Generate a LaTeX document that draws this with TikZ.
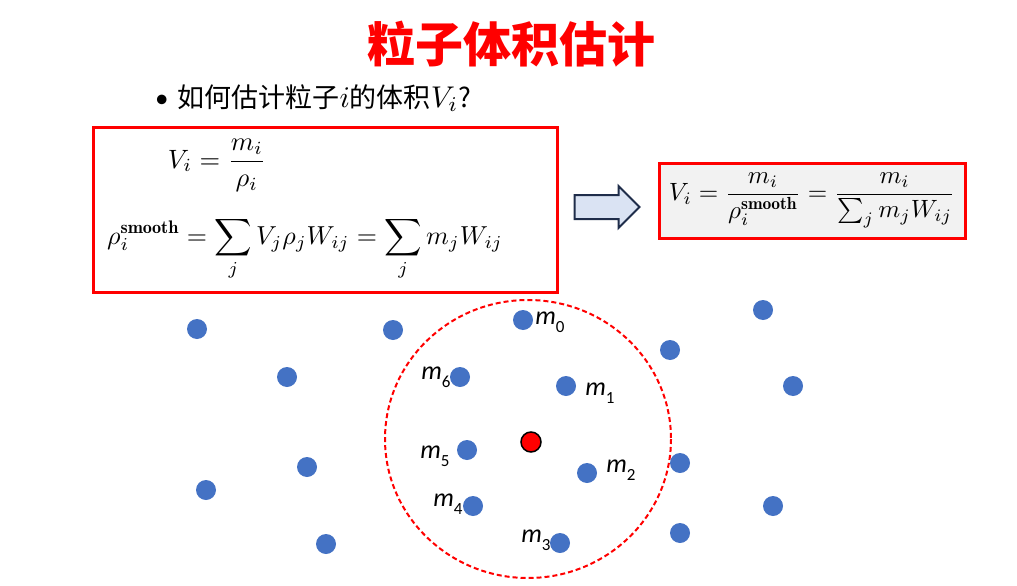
\documentclass[tikz,border=0pt]{standalone}
\usepackage{amsmath}
\usepackage{graphicx}
\usepackage{fontspec}
\newfontfamily\cjk{Noto Sans CJK SC}
\newfontfamily\carl{Carlito}
\usetikzlibrary{shapes.arrows}

\definecolor{dotblue}{HTML}{4472C4}
\definecolor{arrowfill}{HTML}{DAE3F3}
\definecolor{arrowline}{HTML}{1F2D4A}
\definecolor{boxgray}{HTML}{F2F2F2}

\newcommand{\mlab}[1]{{\itshape m}\raisebox{-0.3em}{\fontsize{17}{17}\selectfont #1}}
\newcommand{\fml}[2][2.2]{\scalebox{#1}{\normalsize$\displaystyle #2$}}

\tikzset{
  redbox/.style={draw=red,line width=3pt,inner sep=0pt},
  formula/.style={inner sep=0pt},
  particle/.style={circle,fill=dotblue,inner sep=0pt,minimum size=20pt},
  mlabel/.style={font=\fontsize{26}{28}\selectfont\carl,inner sep=1pt},
}

\begin{document}
\begin{tikzpicture}[x=1pt,y=-1pt]
\useasboundingbox (0,0) rectangle (1017,586);

% title and question
\node[text=red,font=\fontsize{48}{52}\selectfont\cjk\bfseries] (title) at (511,44) {粒子体积估计};
\node[anchor=west,font=\fontsize{27}{30}\selectfont\cjk,inner sep=0pt] (question) at (155,98) {{\carl\textbullet}\hspace{9pt}如何估计粒子\fml[3]{i}的体积\fml[3]{V_i}?};

% left box
\node[redbox,minimum width=464pt,minimum height=165pt] (lbox) at (325,209.5) {};
\node[formula] (vdef) at (217,165) {\fml[2.65]{V_i=\frac{m_i}{\rho_i}}};
\node[formula] (rhodef) at (305,249) {\fml[2.6]{\rho_i^{\mathbf{smooth}}=\sum_j V_j\rho_jW_{ij}=\sum_j m_jW_{ij}}};

% arrow
\node[single arrow,draw=arrowline,fill=arrowfill,line width=2pt,inner xsep=0pt,inner ysep=11pt,
      minimum height=65pt,single arrow head extend=9pt,
      single arrow head indent=0pt] (arr) at (601,207) {};

% right box
\node[redbox,fill=boxgray,minimum width=306pt,minimum height=75pt] (rbox) at (812,200.5) {};
\node[formula] (vres) at (rbox) {\fml[2.5]{V_i=\frac{m_i}{\rho_i^{\mathbf{smooth}}}=\frac{m_i}{\sum_j m_jW_{ij}}}};

% kernel support
\draw[red,dashed,line width=2pt,dash pattern=on 5pt off 3pt] (528,439) ellipse [x radius=143,y radius=139];

% particles
\foreach \n/\x/\y in {a/197/329,b/393/330,c/763/310,d/670/350,e/287/377,f/793/386,
                      g/307/467,h/680/463,k/206/490,l/773/506,p/326/544,q/680/533}
  \node[particle] (\n) at (\x,\y) {};
\foreach \n/\x/\y in {0/523/320,1/566/386,2/587/473,3/560/543,4/473/506,5/467/450,6/460/377}
  \node[particle] (m\n) at (\x,\y) {};
\node[circle,fill=red,draw=black,line width=1.5pt,minimum size=20pt,inner sep=0pt] (pi) at (531,442) {};

% labels
\node[mlabel,anchor=west] (l0) at ([xshift=1pt,yshift=-2pt]m0.east) {\mlab{0}};
\node[mlabel,anchor=west] (l1) at ([xshift=8pt,yshift=-7pt]m1.east) {\mlab{1}};
\node[mlabel,anchor=west] (l2) at ([xshift=8pt,yshift=3pt]m2.east) {\mlab{2}};
\node[mlabel,anchor=east] (l3) at ([xshift=2pt,yshift=3pt]m3.west) {\mlab{3}};
\node[mlabel,anchor=east] (l4) at ([xshift=1pt,yshift=2pt]m4.west) {\mlab{4}};
\node[mlabel,anchor=east] (l5) at ([xshift=-6pt,yshift=-6pt]m5.west) {\mlab{5}};
\node[mlabel,anchor=east] (l6) at ([xshift=2pt,yshift=0pt]m6.west) {\mlab{6}};

\end{tikzpicture}
\end{document}
